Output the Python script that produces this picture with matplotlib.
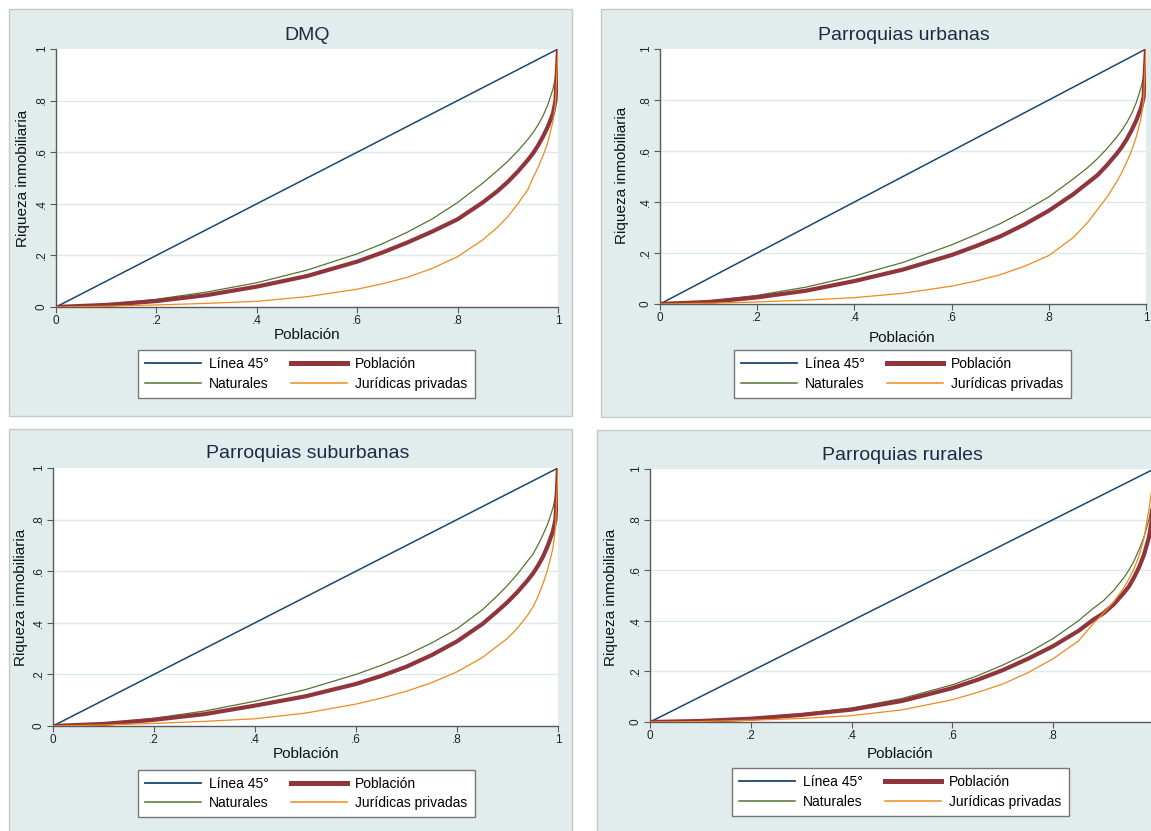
import matplotlib.pyplot as plt
from matplotlib.patches import Rectangle
from matplotlib.lines import Line2D

plt.rcParams['font.family'] = ['Liberation Sans', 'DejaVu Sans']

# Lorenz curves
x = [0, .1, .2, .3, .4, .5, .6, .65, .7, .75, .8, .85, .88, .9, .92, .94, .95, .96, .97, .98, .99, .995, 1]

titles = ["DMQ", "Parroquias urbanas", "Parroquias suburbanas", "Parroquias rurales"]

naturales = [
    [0, .010, .030, .058, .094, .143, .206, .245, .290, .342, .405, .48, .53, .565, .605, .65, .675, .705, .74, .785, .845, .89, 1],
    [0, .011, .034, .066, .110, .163, .232, .272, .315, .365, .420, .49, .535, .57, .61, .655, .68, .71, .745, .79, .85, .89, 1],
    [0, .010, .030, .058, .096, .141, .200, .235, .275, .322, .377, .45, .505, .545, .59, .64, .665, .70, .74, .785, .845, .89, 1],
    [0, .005, .016, .032, .055, .093, .147, .183, .225, .273, .330, .40, .45, .48, .52, .57, .60, .635, .68, .73, .80, .85, 1],
]
poblacion = [
    [0, .008, .023, .046, .079, .120, .176, .211, .250, .293, .340, .405, .45, .485, .525, .57, .595, .625, .66, .70, .75, .80, 1],
    [0, .008, .026, .052, .090, .135, .192, .227, .265, .312, .366, .43, .475, .505, .545, .59, .615, .645, .68, .72, .77, .81, 1],
    [0, .008, .024, .046, .079, .115, .163, .194, .230, .275, .328, .395, .445, .48, .52, .565, .59, .62, .655, .70, .755, .80, 1],
    [0, .004, .013, .028, .049, .083, .134, .167, .205, .250, .300, .36, .405, .43, .465, .51, .535, .57, .61, .66, .73, .79, 1],
]
juridicas = [
    [0, .003, .008, .014, .022, .040, .069, .090, .115, .150, .195, .26, .31, .35, .40, .455, .50, .54, .585, .64, .72, .79, 1],
    [0, .003, .008, .015, .025, .042, .070, .090, .115, .148, .190, .26, .32, .37, .42, .48, .515, .555, .60, .655, .73, .80, 1],
    [0, .004, .010, .018, .028, .050, .085, .108, .135, .168, .210, .265, .31, .34, .38, .43, .46, .50, .55, .61, .69, .77, 1],
    [0, .002, .007, .014, .025, .048, .088, .117, .150, .195, .250, .32, .39, .43, .475, .53, .565, .605, .655, .725, .84, .91, 1],
]
diag = [0, 1]
ticks = [0, .2, .4, .6, .8, 1]
tick_labels = ["0", ".2", ".4", ".6", ".8", "1"]

W, H = 1151, 831
navy = '#1A476F'
maroon = '#90353B'
green = '#55752F'
orange = '#EE8A1E'
bg = '#E1EDED'

# pixel layout of each panel: background box, plot area, title, labels, legend box
panels = [
    dict(bg=(9, 9, 572, 416), ax=(56, 49, 558, 307), title=(307, 36), xl=(307, 335), yl=(23, 178), leg=(134, 351, 479, 397)),
    dict(bg=(601, 9, 1160, 417), ax=(660, 49, 1146, 304), title=(904, 35), xl=(902, 338), yl=(622, 175), leg=(735, 351, 1070, 397)),
    dict(bg=(9, 429, 572, 840), ax=(53, 468, 558, 726), title=(308, 454), xl=(306, 754), yl=(21, 597), leg=(134, 770, 479, 817)),
    dict(bg=(597, 430, 1160, 840), ax=(650, 469, 1154, 722), title=(902, 456), xl=(900, 754), yl=(611, 597), leg=(726, 769, 1075, 815)),
]


def fx(px):
    return px / W


def fy(py):
    return 1 - py / H


fig = plt.figure(figsize=(W / 100, H / 100), dpi=100)
fig.patch.set_facecolor('white')

for i, p in enumerate(panels):
    x0, y0, x1, y1 = p['bg']
    fig.patches.append(Rectangle((fx(x0), fy(y1)), fx(x1 - x0), (y1 - y0) / H, transform=fig.transFigure,
                                 facecolor=bg, edgecolor='#C4C9C9', linewidth=1, zorder=-5))

    l, t, r, b = p['ax']
    ax = fig.add_axes([fx(l), fy(b), fx(r - l), (b - t) / H])
    ax.set_facecolor('white')
    ax.set_xlim(0, 1)
    ax.set_ylim(0, 1)
    for s in ['top', 'right']:
        ax.spines[s].set_visible(False)
    for s in ['left', 'bottom']:
        ax.spines[s].set_color('#5A5A5A')
        ax.spines[s].set_linewidth(1)
    ax.set_xticks(ticks)
    # the last panel is cut at the right edge, its "1" falls outside the picture
    xl = tick_labels if i < 3 else tick_labels[:-1] + [""]
    ax.set_xticklabels(xl, fontsize=8.5)
    ax.set_yticks(ticks)
    ax.set_yticklabels(tick_labels, fontsize=8.5, rotation=90, va='center')
    ax.tick_params(colors='#5A5A5A', labelcolor='#222222', length=4, width=0.8, pad=2)
    for g in ticks[1:-1]:
        ax.axhline(g, color='#DCE9EA', linewidth=1, zorder=0)

    ax.plot(diag, diag, color=navy, linewidth=1.1, label="Línea 45°", zorder=3)
    ax.plot(x, naturales[i], color=green, linewidth=0.9, label="Naturales", zorder=3)
    ax.plot(x, poblacion[i], color=maroon, linewidth=3.0, label="Población", zorder=3)
    ax.plot(x, juridicas[i], color=orange, linewidth=0.9, label="Jurídicas privadas", zorder=3)

    fig.text(fx(p['title'][0]), fy(p['title'][1]), titles[i], ha='center', va='center',
             fontsize=14, color='#1C2B45')
    fig.text(fx(p['xl'][0]), fy(p['xl'][1]), "Población", ha='center', va='center', fontsize=11, color='#111111')
    fig.text(fx(p['yl'][0]), fy(p['yl'][1]), "Riqueza inmobiliaria", ha='center', va='center',
             rotation=90, fontsize=11, color='#111111')

    lx0, ly0, lx1, ly1 = p['leg']
    handles = [Line2D([], [], color=navy, linewidth=1.3), Line2D([], [], color=green, linewidth=1.1),
               Line2D([], [], color=maroon, linewidth=3.6), Line2D([], [], color=orange, linewidth=1.1)]
    labels = ["Línea 45°", "Naturales", "Población", "Jurídicas privadas"]
    leg = fig.legend(handles, labels, ncol=2, loc='center',
                     bbox_to_anchor=(fx((lx0 + lx1) / 2), fy((ly0 + ly1) / 2)),
                     fontsize=10, handlelength=4.0, handletextpad=0.6, columnspacing=1.6,
                     labelspacing=0.4, borderpad=0.5, fancybox=False, frameon=True, framealpha=1)
    leg.get_frame().set_edgecolor('#777777')
    leg.get_frame().set_linewidth(1)
    leg.get_frame().set_facecolor('white')

fig.savefig('out.png', dpi=100)
